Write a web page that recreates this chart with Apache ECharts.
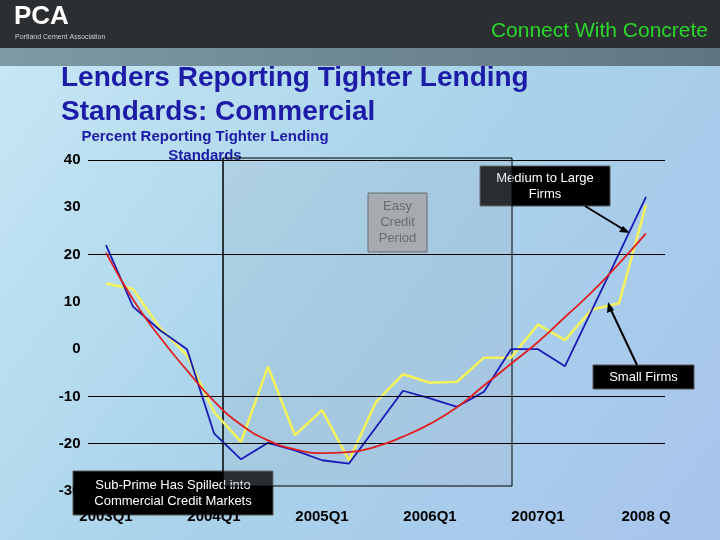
<!DOCTYPE html>
<html>
<head>
<meta charset="utf-8">
<script src="https://cdn.jsdelivr.net/npm/echarts@6/dist/echarts.min.js"></script>
<style>
  html, body { margin: 0; padding: 0; }
  #chart { width: 720px; height: 540px; }
</style>
</head>
<body>
<div id="chart"></div>
<script>
// quarters 2003Q1 .. 2008Q1
var quarters = ['2003Q1', '2003Q2', '2003Q3', '2003Q4', '2004Q1', '2004Q2', '2004Q3', '2004Q4',
  '2005Q1', '2005Q2', '2005Q3', '2005Q4', '2006Q1', '2006Q2', '2006Q3', '2006Q4',
  '2007Q1', '2007Q2', '2007Q3', '2007Q4', '2008 Q'];
var yTicks = [40, 30, 20, 10, 0, -10, -20, -30];
var gridValues = [40, 20, -10, -20];

var mediumLarge = [22, 9, 4, 0, -17.8, -23.3, -19.8, -21.4, -23.5, -24.2, -16.5,
  -8.8, -10.4, -12.2, -9, 0, 0, -3.6, 8.3, 20.2, 32.2];
var smallFirms = [13.9, 12.7, 4.5, -1.3, -13.3, -19.6, -3.7, -18.2, -12.9, -23.5, -11.2,
  -5.3, -7.1, -6.9, -1.8, -1.8, 5.2, 1.9, 8.4, 9.7, 30.5];
var trend = [20.4, 10.5, 2.5, -4.5, -11, -16, -19.3, -21.2, -22, -21.8, -20.6,
  -18.5, -15.8, -12.3, -7.7, -3.1, 1.5, 6.8, 12.1, 18.1, 24.5];

var chart = echarts.init(document.getElementById('chart'));

var boxText = function (x, y, w, h, lines, fill, color, size) {
  return {
    type: 'group', z: 100,
    children: [
      { type: 'rect', shape: { x: x, y: y, width: w, height: h }, style: { fill: fill, stroke: '#555', lineWidth: 1 } },
      { type: 'text', x: x + w / 2, y: y + h / 2, style: { text: lines, fill: color, font: size + 'px "Liberation Sans", Arial', align: 'center', verticalAlign: 'middle', lineHeight: size + 3 } }
    ]
  };
};

var option = {
  animation: false,
  backgroundColor: {
    type: 'linear', x: 0, y: 0, x2: 1, y2: 1,
    colorStops: [{ offset: 0, color: '#c9e8f5' }, { offset: 0.5, color: '#a9d3ea' }, { offset: 1, color: '#a8c4ec' }]
  },
  grid: { left: 92.5, width: 567, top: 160, height: 331 },
  xAxis: {
    type: 'category',
    data: quarters,
    axisLine: { show: false },
    axisTick: { show: false },
    axisLabel: {
      interval: function (i) { return i % 4 === 0; },
      color: '#000', fontWeight: 'bold', fontSize: 15, fontFamily: 'Liberation Sans', margin: 18
    }
  },
  yAxis: {
    type: 'value', min: -30, max: 40, interval: 10,
    splitLine: { show: false },
    axisLine: { show: false },
    axisLabel: { color: '#000', fontWeight: 'bold', fontSize: 15, fontFamily: 'Liberation Sans', margin: 12 }
  },
  series: [{
    name: 'Small Firms', type: 'line', data: smallFirms, symbol: 'none', z: 3,
    lineStyle: { color: '#f4f45a', width: 2.5 },
    markLine: {
      silent: true, symbol: 'none', label: { show: false },
      lineStyle: { color: '#000', width: 1, type: 'solid' },
      data: gridValues.map(function (v) { return [{ yAxis: v, x: 88 }, { yAxis: v, x: 665 }]; })
    }
  }, {
    name: 'Medium to Large Firms', type: 'line', data: mediumLarge, symbol: 'none', z: 4,
    lineStyle: { color: '#1a1ab8', width: 1.8 }
  }, {
    name: 'Trend', type: 'line', data: trend, symbol: 'none', smooth: true, z: 5,
    lineStyle: { color: '#e02020', width: 1.8 }
  }],
  graphic: [
    { type: 'rect', z: 0, shape: { x: 0, y: 0, width: 720, height: 48 }, style: { fill: '#2b2f31' } },
    { type: 'rect', z: 0, shape: { x: 0, y: 48, width: 720, height: 18 },
      style: { fill: { type: 'linear', x: 0, y: 0, x2: 1, y2: 0, colorStops: [{ offset: 0, color: '#7d9aa6' }, { offset: 1, color: '#5f7680' }] } } },
    { type: 'text', x: 14, y: 4, style: { text: 'PCA', fill: '#fff', font: 'bold 26px "Liberation Sans Narrow", "Liberation Sans"' } },
    { type: 'text', x: 15, y: 34, style: { text: 'Portland Cement Association', fill: '#ccc', font: '7px "Liberation Sans"' } },
    { type: 'text', x: 708, y: 31, style: { text: 'Connect With Concrete', fill: '#2bd62b', font: '21px "Liberation Sans"', align: 'right', verticalAlign: 'middle' } },
    { type: 'text', x: 61, y: 61, style: { text: 'Lenders Reporting Tighter Lending\nStandards: Commercial', fill: '#1c1ca8', font: 'bold 28px "Liberation Sans"', lineHeight: 34 } },
    { type: 'text', x: 205, y: 127, style: { text: 'Percent Reporting Tighter Lending\nStandards', fill: '#1c1ca8', font: 'bold 15px "Liberation Sans"', align: 'center', lineHeight: 19 } },
    // easy credit period region
    { type: 'rect', z: 1, shape: { x: 223, y: 158, width: 289, height: 328 }, style: { fill: 'rgba(160,180,200,0.25)', stroke: '#000', lineWidth: 1 } },
    { type: 'line', z: 1, shape: { x1: 223, y1: 158, x2: 223, y2: 491 }, style: { stroke: '#000', lineWidth: 1 } },
    boxText(368, 193, 59, 59, 'Easy\nCredit\nPeriod', '#a8a8a8', '#555', 13),
    boxText(480, 166, 130, 40, 'Medium to Large\nFirms', '#000', '#fff', 13),
    boxText(593, 365, 101, 24, 'Small Firms', '#000', '#fff', 13),
    boxText(73, 471, 200, 44, 'Sub-Prime Has Spilled into\nCommercial Credit Markets', '#000', '#fff', 13),
    { type: 'line', z: 101, shape: { x1: 585, y1: 206, x2: 626, y2: 231 }, style: { stroke: '#000', lineWidth: 2 } },
    { type: 'polygon', z: 101, shape: { points: [[630, 233], [619, 232], [623, 226]] }, style: { fill: '#000' } },
    { type: 'line', z: 101, shape: { x1: 637, y1: 365, x2: 611, y2: 310 }, style: { stroke: '#000', lineWidth: 2 } },
    { type: 'polygon', z: 101, shape: { points: [[608, 302], [607, 313], [614, 310]] }, style: { fill: '#000' } }
  ]
};

chart.setOption(option);
</script>
</body>
</html>
